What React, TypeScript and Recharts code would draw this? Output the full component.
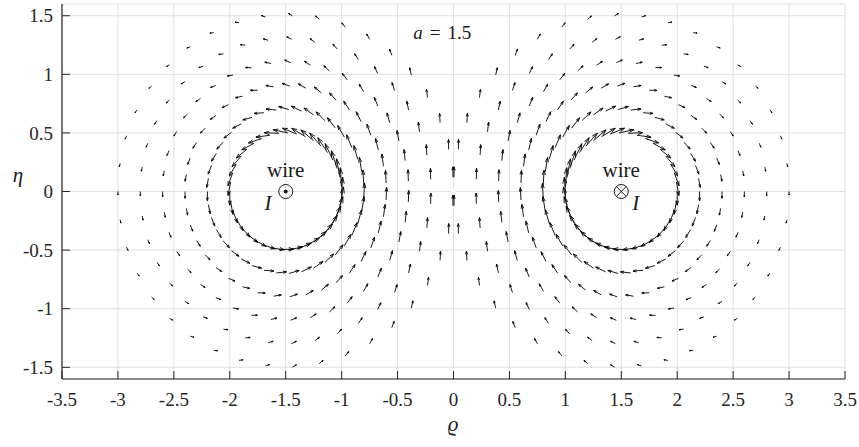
import React from "react"
import { LineChart, Line, XAxis, YAxis, CartesianGrid, ReferenceDot } from "recharts"

const xTicks = [-3.5, -3, -2.5, -2, -1.5, -1, -0.5, 0, 0.5, 1, 1.5, 2, 2.5, 3, 3.5]
const yTicks = [-1.5, -1, -0.5, 0, 0.5, 1, 1.5]

// wire centres on the rho axis, current +1 = out of page, -1 = into page
const wireRho = [-1.5, 1.5]
const wireCurrent = [1, -1]
// rings of sample points round each wire
const ringRadii = [0.5, 0.7, 0.9, 1.1, 1.3, 1.5]
// sample angles (deg) on every ring of the left wire, the right wire uses the mirror image
const ringAngles = [
  -180, -170.77, -161.54, -152.31, -143.08, -133.85, -124.62, -115.38, -106.15, -96.92,
  -87.69, -78.46, -69.23, -60, -50.77, -41.54, -32.31, -23.08, -13.85, -4.62,
  4.62, 13.85, 23.08, 32.31, 41.54, 50.77, 60, 69.23, 78.46, 87.69,
  96.92, 106.15, 115.38, 124.62, 133.85, 143.08, 152.31, 161.54, 170.77,
]

const ARROW_SCALE = 0.068
const HEAD = 0.33
const HEAD_W = 0.33

const FONT = "Liberation Serif, Tinos, DejaVu Serif, serif"
const INK = "#262626"

function fieldAt(x: number, y: number) {
  let u = 0
  let v = 0
  wireRho.forEach((wx, i) => {
    const dx = x - wx
    const r2 = dx * dx + y * y
    u += (wireCurrent[i] * -y) / r2
    v += (wireCurrent[i] * dx) / r2
  })
  return [u, v]
}

// quiver: shaft + head for every sample point, gaps as null
const arrows: { x: number; y: number | null }[] = []
wireRho.forEach((wx) => {
  const side = wx < 0 ? 1 : -1
  ringRadii.forEach((r) => {
    ringAngles.forEach((deg) => {
      const t = (deg * Math.PI) / 180
      const x = wx + side * r * Math.cos(t)
      const y = r * Math.sin(t)
      const [bu, bv] = fieldAt(x, y)
      const u = bu * ARROW_SCALE
      const v = bv * ARROW_SCALE
      const hx = x + u
      const hy = y + v
      arrows.push(
        { x, y },
        { x: hx, y: hy },
        { x: hx, y: null },
        { x: hx - HEAD * (u + HEAD_W * v), y: hy - HEAD * (v - HEAD_W * u) },
        { x: hx, y: hy },
        { x: hx - HEAD * (u - HEAD_W * v), y: hy - HEAD * (v + HEAD_W * u) },
        { x: hx, y: null },
      )
    })
  })
})

const txtStyle = (size: number, italic = false) => ({
  fontFamily: FONT,
  fontSize: size,
  fontStyle: italic ? "italic" : "normal",
  fill: "#1a1a1a",
})

const textLabel = (txt: string, size: number, italic = false) => (p: any) => (
  <text x={p.cx} y={p.cy} textAnchor="middle" style={txtStyle(size, italic)}>
    {txt}
  </text>
)

const WireOut = (p: any) => (
  <g>
    <circle cx={p.cx} cy={p.cy} r={7} fill="none" stroke="#1a1a1a" strokeWidth={1} />
    <circle cx={p.cx} cy={p.cy} r={2} fill="#1a1a1a" />
  </g>
)

const WireIn = (p: any) => {
  const d = 7 * 0.7071
  return (
    <g stroke="#1a1a1a" strokeWidth={1} fill="none">
      <circle cx={p.cx} cy={p.cy} r={7} />
      <line x1={p.cx - d} y1={p.cy - d} x2={p.cx + d} y2={p.cy + d} />
      <line x1={p.cx - d} y1={p.cy + d} x2={p.cx + d} y2={p.cy - d} />
    </g>
  )
}

const ParamLabel = (p: any) => (
  <text x={p.cx} y={p.cy} style={txtStyle(19)}>
    <tspan style={{ fontStyle: "italic" }}>a</tspan>
    <tspan dx={7}>=</tspan>
    <tspan dx={7}>1.5</tspan>
  </text>
)

const tickStyle = { fill: INK, fontSize: 19, fontFamily: FONT, style: { fontFamily: FONT } }

export default function App() {
  return (
    <div style={{ position: "absolute", left: 0, top: 0, width: 859, height: 447, background: "#fff", fontFamily: FONT }}>
      <LineChart width={859} height={447} margin={{ top: 4, right: 14, bottom: 38, left: 0 }} style={{ fontFamily: FONT }}>
        <CartesianGrid stroke="#dfdfdf" strokeWidth={1} />
        <XAxis
          dataKey="x"
          type="number"
          domain={[-3.5, 3.5]}
          ticks={xTicks}
          allowDataOverflow
          height={30}
          tickSize={-8}
          tickMargin={22}
          tick={tickStyle}
          axisLine={{ stroke: INK, strokeWidth: 1.2 }}
          tickLine={{ stroke: INK }}
        />
        <XAxis
          xAxisId="top"
          dataKey="x"
          orientation="top"
          type="number"
          domain={[-3.5, 3.5]}
          ticks={xTicks}
          allowDataOverflow
          height={0}
          tickSize={-8}
          tick={false}
          axisLine={{ stroke: INK, strokeWidth: 1.2 }}
          tickLine={{ stroke: INK }}
        />
        <YAxis
          type="number"
          domain={[-1.6, 1.6]}
          ticks={yTicks}
          allowDataOverflow
          width={62}
          tickSize={-8}
          tickMargin={17}
          tick={tickStyle}
          axisLine={{ stroke: INK, strokeWidth: 1.2 }}
          tickLine={{ stroke: INK }}
        />
        <YAxis
          yAxisId="right"
          orientation="right"
          type="number"
          domain={[-1.6, 1.6]}
          ticks={yTicks}
          allowDataOverflow
          width={0}
          tickSize={-8}
          tick={false}
          axisLine={{ stroke: INK, strokeWidth: 1.2 }}
          tickLine={{ stroke: INK }}
        />
        <Line
          data={arrows}
          dataKey="y"
          stroke="#000"
          strokeWidth={0.9}
          dot={false}
          activeDot={false}
          connectNulls={false}
          isAnimationActive={false}
        />
        <Line
          xAxisId="top"
          yAxisId="right"
          data={[{ x: 0, y: 0 }]}
          dataKey="y"
          stroke="none"
          dot={false}
          activeDot={false}
          isAnimationActive={false}
        />
        <ReferenceDot x={wireRho[0]} y={0} shape={WireOut} />
        <ReferenceDot x={wireRho[1]} y={0} shape={WireIn} />
        <ReferenceDot x={wireRho[0]} y={0.128} shape={textLabel("wire", 21)} />
        <ReferenceDot x={wireRho[1]} y={0.128} shape={textLabel("wire", 21)} />
        <ReferenceDot x={-1.658} y={-0.16} shape={textLabel("I", 21, true)} />
        <ReferenceDot x={1.629} y={-0.16} shape={textLabel("I", 21, true)} />
        <ReferenceDot x={-0.359} y={1.3} shape={ParamLabel} />
      </LineChart>
      <svg width={859} height={447} style={{ position: "absolute", left: 0, top: 0, pointerEvents: "none" }}>
        <text x={18} y={182} textAnchor="middle" style={txtStyle(21, true)}>
          η
        </text>
        <text x={453} y={431} textAnchor="middle" style={txtStyle(21, true)}>
          ϱ
        </text>
      </svg>
    </div>
  )
}
